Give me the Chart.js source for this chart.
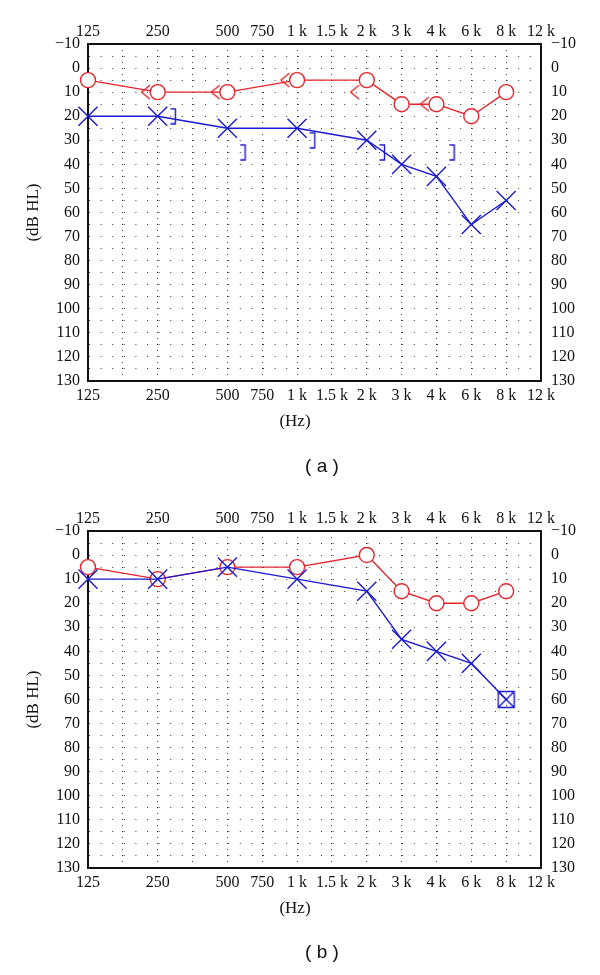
<!DOCTYPE html>
<html>
<head>
<meta charset="utf-8">
<script src="https://cdn.jsdelivr.net/npm/chart.js@4.4.0/dist/chart.umd.min.js"></script>
<style>
  body { margin: 0; background: #fff; }
  #page { position: relative; width: 600px; height: 975px; overflow: hidden; }
  .chart { position: absolute; left: 0; width: 600px; height: 487px; }
  .lbl { position: absolute; transform: translate(-50%, -50%); white-space: nowrap; color: #111; }
  .hz { font: 17px "Liberation Serif", serif; }
  .cap { font: 19px "Liberation Sans", Arial, sans-serif; }
</style>
</head>
<body>
<div id="page">
  <div class="chart" style="top:0"><canvas id="chartA" width="600" height="487"></canvas></div>
  <div class="chart" style="top:487px"><canvas id="chartB" width="600" height="487"></canvas></div>
  <div class="lbl hz" style="left:295px;top:421px">(Hz)</div>
  <div class="lbl cap" style="left:322px;top:466px">( a )</div>
  <div class="lbl hz" style="left:295px;top:908px">(Hz)</div>
  <div class="lbl cap" style="left:322px;top:952px">( b )</div>
</div>
<script>
// frequency axis: one slot per half octave-ish step, 125 Hz at slot 0
const freqLabels = ['125', '', '250', '', '500', '750', '1 k', '1.5 k', '2 k', '3 k', '4 k', '6 k', '8 k', '12 k'];
const dbTicks = [-10, 0, 10, 20, 30, 40, 50, 60, 70, 80, 90, 100, 110, 120, 130];

// tested frequencies
const airFreqs = ['125', '250', '500', '1 k', '2 k', '3 k', '4 k', '6 k', '8 k'];
const boneFreqs = ['250', '500', '1 k', '2 k', '4 k'];

// (a)
const aRightAir = [5, 10, 10, 5, 5, 15, 15, 20, 10];
const aLeftAir = [20, 20, 25, 25, 30, 40, 45, 65, 55];
const aRightBone = [10, 10, 5, 10, 15];
const aLeftBoneMasked = [20, 35, 30, 35, 35];

// (b)
const bRightAir = [5, 10, 5, 5, 0, 15, 20, 20, 15];
const bLeftAir = [10, 10, 5, 10, 15, 35, 40, 45, 60];
const bLeftMaskedAt = ['8 k'];

const RED = 'rgb(230, 36, 42)';
const BLUE = 'rgb(26, 26, 210)';
const INK = '#111';

function markCanvas(w, h, color, draw) {
  const c = document.createElement('canvas');
  c.width = w;
  c.height = h;
  const ctx = c.getContext('2d');
  ctx.strokeStyle = color;
  ctx.lineWidth = 1.4;
  ctx.beginPath();
  draw(ctx);
  ctx.stroke();
  return c;
}

// audiogram symbols not built into Chart.js
const boneRightMark = markCanvas(11, 16, RED, ctx => {
  ctx.moveTo(10, 1); ctx.lineTo(1.5, 8); ctx.lineTo(10, 15);
});
const boneLeftMark = markCanvas(7, 17, BLUE, ctx => {
  ctx.moveTo(0.5, 1); ctx.lineTo(5.5, 1); ctx.lineTo(5.5, 16); ctx.lineTo(0.5, 16);
});
const boxedXMark = markCanvas(19, 19, BLUE, ctx => {
  ctx.rect(1.5, 1.5, 16, 16);
  ctx.moveTo(1.5, 1.5); ctx.lineTo(17.5, 17.5);
  ctx.moveTo(17.5, 1.5); ctx.lineTo(1.5, 17.5);
});

const slot = f => freqLabels.indexOf(f);
const pts = (freqs, vals, shift = 0) => freqs.map((f, i) => ({ x: slot(f) + shift, y: vals[i] }));

const tickFont = { family: '"Liberation Serif", serif', size: 16 };
const dbLabel = v => dbTicks.includes(v) ? (v < 0 ? '\u2212' + Math.abs(v) : String(v)) : '';
const freqLabel = v => freqLabels[v] ?? '';

function airLine(data, color, style, radius, fill) {
  return {
    data,
    borderColor: color,
    borderWidth: 1.4,
    pointStyle: style,
    pointRadius: radius,
    pointBorderColor: color,
    pointBorderWidth: 1.4,
    pointBackgroundColor: fill,
    tension: 0,
    clip: false
  };
}

function marks(data, mark) {
  return { data, showLine: false, pointStyle: mark, pointRadius: 5, clip: false };
}

function makeChart(id, datasets) {
  new Chart(document.getElementById(id), {
    type: 'line',
    data: { datasets },
    options: {
      responsive: false,
      animation: false,
      events: [],
      layout: { padding: 0, autoPadding: false },
      plugins: { legend: { display: false }, tooltip: { enabled: false } },
      scales: {
        x: {
          type: 'linear', position: 'bottom', min: 0, max: 13,
          ticks: { stepSize: 1, autoSkip: false, maxRotation: 0, padding: 5, color: INK, font: tickFont, callback: freqLabel },
          grid: { color: '#3a3a3a', lineWidth: 1, drawTicks: false },
          border: { display: true, color: INK, width: 2, dash: [1, 5] },
          afterFit: s => { s.height = 106; }
        },
        xTop: {
          type: 'linear', position: 'top', min: 0, max: 13,
          ticks: { stepSize: 1, autoSkip: false, maxRotation: 0, padding: 3, color: INK, font: tickFont, callback: freqLabel },
          grid: { display: false, drawTicks: false },
          border: { display: true, color: INK, width: 2 },
          afterFit: s => { s.height = 44; }
        },
        y: {
          type: 'linear', position: 'left', reverse: true, min: -10, max: 130,
          ticks: { stepSize: 5, autoSkip: false, padding: 8, color: INK, font: tickFont, callback: dbLabel },
          grid: { color: '#3a3a3a', lineWidth: 1, drawTicks: false },
          border: { display: true, color: INK, width: 2, dash: [1, 10.6] },
          title: { display: true, text: '(dB HL)', color: INK, font: { family: '"Liberation Serif", serif', size: 17 }, padding: { top: 23, bottom: 0 } },
          afterFit: s => { s.width = 88; }
        },
        yRight: {
          type: 'linear', position: 'right', reverse: true, min: -10, max: 130,
          ticks: { stepSize: 5, autoSkip: false, padding: 10, color: INK, font: tickFont, callback: dbLabel },
          grid: { display: false, drawTicks: false },
          border: { display: true, color: INK, width: 2 },
          afterFit: s => { s.width = 59; }
        }
      }
    }
  });
}

makeChart('chartA', [
  airLine(pts(airFreqs, aLeftAir), BLUE, 'crossRot', 13.5, BLUE),
  marks(pts(boneFreqs, aLeftBoneMasked, 0.45), boneLeftMark),
  marks(pts(boneFreqs, aRightBone, -0.35), boneRightMark),
  airLine(pts(airFreqs, aRightAir), RED, 'circle', 7.5, '#fff')
]);

makeChart('chartB', [
  airLine(pts(airFreqs, bLeftAir), BLUE,
    airFreqs.map(f => bLeftMaskedAt.includes(f) ? boxedXMark : 'crossRot'), 13.5, BLUE),
  airLine(pts(airFreqs, bRightAir), RED, 'circle', 7.5, '#fff')
]);
</script>
</body>
</html>
